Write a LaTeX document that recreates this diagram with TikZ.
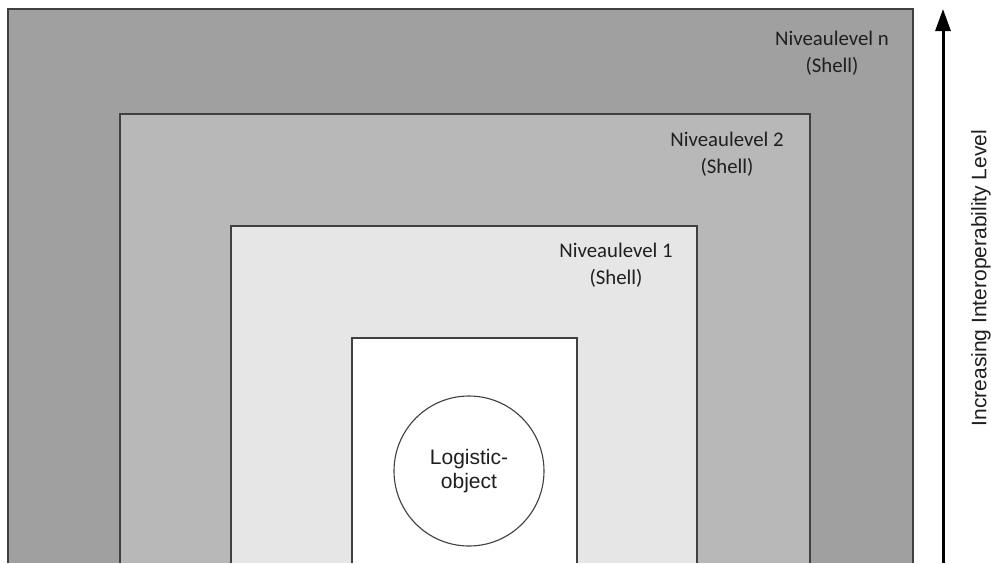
\documentclass[tikz,border=0pt]{standalone}
\usepackage{fontspec}
\setmainfont{Carlito}
\newfontfamily\arialf{Liberation Sans}
\usetikzlibrary{arrows.meta}
\definecolor{lvn}{HTML}{A0A0A0}
\definecolor{lvtwo}{HTML}{B8B8B8}
\definecolor{lvone}{HTML}{E6E6E6}
\definecolor{edge}{HTML}{404040}
\begin{document}
\begin{tikzpicture}[x=1pt,y=-1pt,
  shellline/.style={draw=edge,line width=1.4pt},
  shelllabel/.style={align=center,font=\fontsize{20.8}{26.5}\selectfont,text=black!88},
  sanslabel/.style={font=\arialf\fontsize{21}{23.5}\selectfont,text=black!88}]
\useasboundingbox (0,0) rectangle (991,563);
% shells
\fill[lvn] (8,9) rectangle (913,563);
\draw[shellline] (8,563) -- (8,9) -- (913,9) -- (913,563);
\fill[lvtwo] (120,114) rectangle (810,563);
\draw[shellline] (120,563) -- (120,114) -- (810,114) -- (810,563);
\fill[lvone] (231,226) rectangle (697,563);
\draw[shellline] (231,563) -- (231,226) -- (697,226) -- (697,563);
\fill[white] (352,338) rectangle (577,563);
\draw[shellline,line width=1.2pt] (352,563) -- (352,338) -- (577,338) -- (577,563);
% labels
\node[shelllabel] (ln) at (832,53) {Niveaulevel n\\(Shell)};
\node[shelllabel] (l2) at (727,154) {Niveaulevel 2\\(Shell)};
\node[shelllabel] (l1) at (616,265) {Niveaulevel 1\\(Shell)};
% logistic object
\node[circle,draw=edge,line width=1.1pt,minimum size=150pt,inner sep=0pt,
  sanslabel,align=center] (obj) at (469,471) {Logistic-\\object};
% arrow
\coordinate (abot) at (943,563);
\coordinate (atop) at (943,9);
\draw[line width=3pt,-{Triangle[length=22pt,width=15pt]}] (abot) -- (atop);
\node[sanslabel,rotate=90] (axis) at (981,278) {Increasing Interoperability Level};
\end{tikzpicture}
\end{document}
